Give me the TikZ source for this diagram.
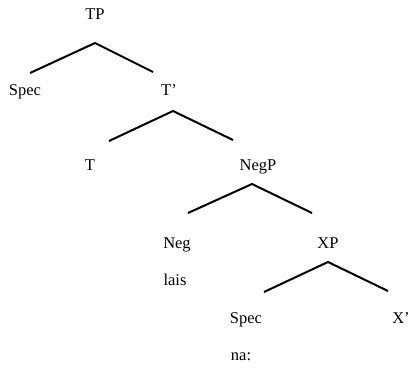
\documentclass[tikz,border=0pt]{standalone}
\usepackage{fontspec}
\setmainfont{Liberation Serif}
\begin{document}
\begin{tikzpicture}[x=1pt,y=-1pt,
  lab/.style={anchor=base,inner sep=0pt,font=\fontsize{16.5}{19}\selectfont},
  branch/.style={line width=2pt,line join=miter}]
\useasboundingbox (0,0) rectangle (409,367);
% labels
\node[lab] (tp) at (95,19) {TP};
\node[lab] (spec1) at (25,95) {Spec};
\node[lab] (tbar) at (169,95) {T'};
\node[lab] (t) at (90,170) {T};
\node[lab] (negp) at (258,170) {NegP};
\node[lab] (neg) at (177,248) {Neg};
\node[lab] (lais) at (175,285) {lais};
\node[lab] (xp) at (328,248) {XP};
\node[lab] (spec2) at (246,323) {Spec};
\node[lab] (xbar) at (401,323) {X'};
\node[lab] (na) at (241,360) {na:};
% branch points
\coordinate (tpA) at (95,43);
\coordinate (tpL) at (30,73);
\coordinate (tpR) at (153,72);
\coordinate (tbA) at (173,111);
\coordinate (tbL) at (109,141);
\coordinate (tbR) at (233,140);
\coordinate (ngA) at (252,184);
\coordinate (ngL) at (188,213);
\coordinate (ngR) at (312,213);
\coordinate (xpA) at (328,262);
\coordinate (xpL) at (264,292);
\coordinate (xpR) at (388,291);
% branches
\draw[branch] (tpL) -- (tpA) -- (tpR);
\draw[branch] (tbL) -- (tbA) -- (tbR);
\draw[branch] (ngL) -- (ngA) -- (ngR);
\draw[branch] (xpL) -- (xpA) -- (xpR);
\end{tikzpicture}
\end{document}
